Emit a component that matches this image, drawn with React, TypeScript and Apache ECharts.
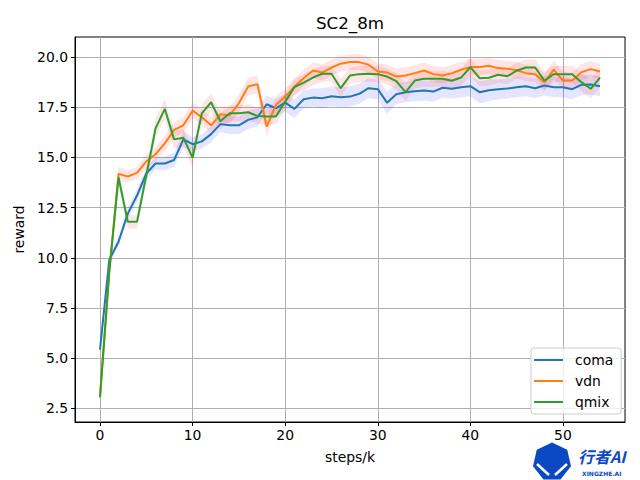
import React, { useEffect, useRef } from "react";
import * as echarts from "echarts";

const steps: number[] = Array.from({ length: 55 }, (_, i) => i);

const coma = [5.43, 9.9, 10.8, 12.2, 13.1, 14.2, 14.7, 14.7, 14.87, 15.9, 15.66, 15.8, 16.16, 16.66, 16.6, 16.6, 16.87, 17.0, 17.65, 17.45, 17.73, 17.42, 17.9, 17.98, 17.95, 18.05, 18.0, 18.03, 18.17, 18.45, 18.4, 17.73, 18.15, 18.25, 18.3, 18.33, 18.28, 18.47, 18.42, 18.5, 18.55, 18.25, 18.35, 18.4, 18.43, 18.5, 18.55, 18.45, 18.58, 18.5, 18.5, 18.4, 18.62, 18.63, 18.55];
const vdn = [3.1, 9.3, 14.18, 14.05, 14.23, 14.8, 15.16, 15.7, 16.37, 16.6, 17.33, 17.0, 16.6, 17.15, 17.1, 17.7, 18.53, 18.65, 16.54, 17.62, 18.03, 18.53, 18.95, 19.33, 19.23, 19.48, 19.67, 19.75, 19.75, 19.62, 19.28, 19.23, 19.03, 19.08, 19.2, 19.33, 19.15, 19.08, 19.2, 19.37, 19.5, 19.5, 19.57, 19.45, 19.42, 19.35, 19.2, 19.15, 18.75, 19.37, 18.83, 18.83, 19.25, 19.4, 19.28];
const qmix = [3.05, 9.3, 14.0, 11.8, 11.8, 14.1, 16.45, 17.42, 15.9, 15.98, 14.99, 17.2, 17.75, 16.8, 17.2, 17.2, 17.25, 17.07, 17.04, 17.04, 17.78, 18.5, 18.73, 18.98, 19.17, 19.17, 18.45, 19.08, 19.15, 19.17, 19.15, 19.03, 18.8, 18.25, 18.83, 18.92, 18.92, 18.92, 18.82, 18.98, 19.5, 18.95, 18.97, 19.12, 19.05, 19.32, 19.48, 19.48, 18.82, 19.15, 19.15, 19.15, 18.75, 18.42, 18.98];

const comaSpread = [0.08, 0.2, 0.25, 0.3, 0.3, 0.3, 0.3, 0.35, 0.35, 0.4, 0.35, 0.35, 0.4, 0.4, 0.45, 0.45, 0.45, 0.45, 0.45, 0.45, 0.45, 0.45, 0.45, 0.45, 0.5, 0.5, 0.5, 0.5, 0.5, 0.5, 0.5, 0.55, 0.5, 0.5, 0.5, 0.5, 0.5, 0.5, 0.5, 0.5, 0.5, 0.55, 0.55, 0.5, 0.5, 0.5, 0.5, 0.5, 0.5, 0.5, 0.5, 0.5, 0.5, 0.5, 0.5];
const vdnSpread = [0.1, 0.25, 0.35, 0.3, 0.3, 0.35, 0.35, 0.4, 0.4, 0.4, 0.4, 0.4, 0.4, 0.4, 0.4, 0.45, 0.45, 0.45, 0.5, 0.45, 0.4, 0.4, 0.4, 0.4, 0.4, 0.4, 0.4, 0.4, 0.4, 0.4, 0.4, 0.4, 0.4, 0.4, 0.4, 0.4, 0.4, 0.4, 0.4, 0.4, 0.4, 0.4, 0.4, 0.4, 0.4, 0.4, 0.4, 0.4, 0.45, 0.45, 0.45, 0.4, 0.4, 0.4, 0.4];
const qmixSpread = [0.1, 0.25, 0.35, 0.35, 0.35, 0.4, 0.45, 0.5, 0.45, 0.45, 0.5, 0.45, 0.45, 0.4, 0.4, 0.4, 0.4, 0.4, 0.4, 0.4, 0.4, 0.4, 0.4, 0.4, 0.4, 0.4, 0.45, 0.4, 0.4, 0.4, 0.4, 0.4, 0.4, 0.45, 0.4, 0.4, 0.4, 0.4, 0.4, 0.4, 0.45, 0.4, 0.4, 0.4, 0.4, 0.4, 0.4, 0.4, 0.45, 0.4, 0.4, 0.4, 0.45, 0.5, 0.45];

const xTicks = [0, 10, 20, 30, 40, 50];
const yTicks = [2.5, 5.0, 7.5, 10.0, 12.5, 15.0, 17.5, 20.0];

const FONT = "DejaVu Sans";

function bandSeries(name: string, mean: number[], spread: number[], fill: string) {
  return {
    type: "custom",
    name,
    silent: true,
    z: 1,
    data: [[0, mean[0]]],
    renderItem: (_params: any, api: any) => {
      const up = steps.map((x, i) => api.coord([x, mean[i] + spread[i]]));
      const lo = steps.map((x, i) => api.coord([x, mean[i] - spread[i]])).reverse();
      return {
        type: "polygon",
        shape: { points: up.concat(lo) },
        style: { fill, stroke: "none" },
      };
    },
  };
}

function lineSeries(name: string, values: number[], color: string, z: number) {
  return {
    type: "line",
    name,
    z,
    data: steps.map((x, i) => [x, values[i]]),
    showSymbol: false,
    symbol: "none",
    lineStyle: { width: 2, color },
    itemStyle: { color },
  };
}

function heptagon(cx: number, cy: number, r: number) {
  const pts: number[][] = [];
  for (let k = 0; k < 7; k++) {
    const a = -Math.PI / 2 + (k * 2 * Math.PI) / 7;
    pts.push([cx + r * Math.cos(a), cy + r * Math.sin(a)]);
  }
  return pts;
}

export default function App() {
  const ref = useRef<HTMLDivElement>(null);
  useEffect(() => {
    document.body.style.margin = "0";
    const chart = echarts.init(ref.current!, null, { renderer: "svg" });
    const option: any = {
      animation: false,
      backgroundColor: "#ffffff",
      title: {
        text: "SC2_8m",
        left: 350,
        top: 14,
        padding: 0,
        textAlign: "center",
        textStyle: { fontFamily: FONT, fontSize: 16.7, fontWeight: "normal", color: "#000" },
      },
      grid: {
        show: true,
        left: 75,
        right: 15,
        top: 37,
        bottom: 58,
        borderColor: "#000",
        borderWidth: 1,
        backgroundColor: "transparent",
        containLabel: false,
        outerBoundsMode: "none",
      },
      legend: {
        orient: "vertical",
        left: 531,
        top: 348,
        padding: [5, 8, 5, 3],
        itemGap: 7,
        itemWidth: 29,
        itemHeight: 2,
        icon: "rect",
        backgroundColor: "rgba(255,255,255,0.8)",
        borderColor: "#cccccc",
        borderWidth: 1,
        borderRadius: 3,
        textStyle: { fontFamily: FONT, fontSize: 13.9, color: "#000", padding: [0, 0, 0, 7] },
        data: ["coma", "vdn", "qmix"],
      },
      xAxis: {
        type: "value",
        min: -2.7,
        max: 56.7,
        name: "steps/k",
        nameLocation: "middle",
        nameGap: 28,
        nameTextStyle: { fontFamily: FONT, fontSize: 13.9, color: "#000" },
        axisLine: { show: true, onZero: false, lineStyle: { color: "#000", width: 1 } },
        axisTick: { show: true, customValues: xTicks, length: 4, lineStyle: { color: "#000" } },
        axisLabel: { customValues: xTicks, color: "#000", fontFamily: FONT, fontSize: 13.9, margin: 6 },
        splitLine: { show: true, lineStyle: { color: "#b0b0b0", width: 1 } },
      },
      yAxis: {
        type: "value",
        min: 1.82,
        max: 21.0,
        name: "reward",
        nameLocation: "middle",
        nameGap: 47,
        nameTextStyle: { fontFamily: FONT, fontSize: 13.9, color: "#000" },
        axisLine: { show: true, onZero: false, lineStyle: { color: "#000", width: 1 } },
        axisTick: { show: true, customValues: yTicks, length: 4, lineStyle: { color: "#000" } },
        axisLabel: {
          customValues: yTicks,
          color: "#000",
          fontFamily: FONT,
          fontSize: 13.9,
          margin: 7,
          formatter: (v: number) => v.toFixed(1),
        },
        splitLine: { show: true, lineStyle: { color: "#b0b0b0", width: 1 } },
      },
      graphic: [
        {
          type: "polygon",
          shape: { points: heptagon(552, 462, 19.5) },
          style: { fill: "#0b48c4" },
          z: 100,
        },
        {
          type: "polyline",
          shape: { points: [[537, 464], [549, 475]] },
          style: { stroke: "#ffffff", lineWidth: 2.5, fill: "none" },
          z: 101,
        },
        {
          type: "polyline",
          shape: { points: [[567, 464], [555, 475]] },
          style: { stroke: "#ffffff", lineWidth: 2.5, fill: "none" },
          z: 101,
        },
        {
          type: "text",
          x: 578,
          y: 456,
          z: 100,
          style: {
            text: "行者AI",
            fill: "#0b48c4",
            font: "italic bold 16px 'Noto Sans CJK SC'",
            verticalAlign: "middle",
          },
        },
        {
          type: "text",
          x: 582,
          y: 473,
          z: 100,
          style: {
            text: "XINGZHE.AI",
            fill: "#0b48c4",
            font: "bold 6px 'DejaVu Sans'",
            verticalAlign: "middle",
          },
        },
      ],
      series: [
        bandSeries("coma band", coma, comaSpread, "rgba(0,0,255,0.1)"),
        bandSeries("vdn band", vdn, vdnSpread, "rgba(255,0,0,0.1)"),
        bandSeries("qmix band", qmix, qmixSpread, "rgba(255,0,0,0.1)"),
        lineSeries("coma", coma, "#1f77b4", 3),
        lineSeries("vdn", vdn, "#ff7f0e", 4),
        lineSeries("qmix", qmix, "#2ca02c", 5),
      ],
    };
    chart.setOption(option);
    return () => chart.dispose();
  }, []);
  return <div ref={ref} style={{ width: 640, height: 480 }} />;
}
